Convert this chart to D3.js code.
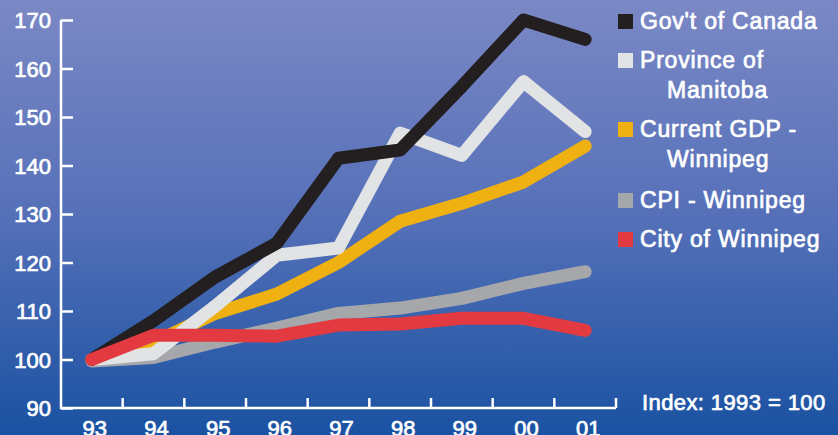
<!DOCTYPE html>
<html>
<head>
<meta charset="utf-8">
<script src="https://cdn.jsdelivr.net/npm/d3@7"></script>
<style>
  html, body { margin: 0; padding: 0; background: #1a52a2; }
  svg { display: block; }
  text { font-family: "Liberation Sans", Arial, sans-serif; fill: #fff; stroke: #fff; stroke-width: 0.7px; }
</style>
</head>
<body>
<script>
// data
const years = ['93', '94', '95', '96', '97', '98', '99', '00', '01'];
const yTicks = [90, 100, 110, 120, 130, 140, 150, 160, 170];

const govCanada = [100, 108, 117, 124, 141.5, 143.2, 156.3, 170, 166];
const provManitoba = [100, 101.2, 111, 121.5, 123, 146.7, 142.1, 157.3, 147];
const gdpWinnipeg = [100, 103.5, 109.5, 113.5, 120, 128.5, 132.2, 136.6, 144];
const cpiWinnipeg = [99.7, 100.4, 103.6, 106.5, 109.5, 110.6, 112.6, 115.7, 118.1];
const cityWinnipeg = [100, 105, 105, 104.8, 107.1, 107.3, 108.5, 108.5, 106];

const seriesNames = ['Gov\'t of Canada', 'Province of|Manitoba', 'Current GDP -|Winnipeg', 'CPI - Winnipeg', 'City of Winnipeg'];
const seriesColors = ['#231f20', '#e1e3e5', '#eeb111', '#a6a7ab', '#e23a40'];
const seriesValues = [govCanada, provManitoba, gdpWinnipeg, cpiWinnipeg, cityWinnipeg];
// drawing order, bottom to top
const drawOrder = [3, 2, 1, 0, 4];

const width = 838, height = 435;

const svg = d3.select('body').append('svg')
  .attr('width', width)
  .attr('height', height);

const defs = svg.append('defs');
const grad = defs.append('linearGradient')
  .attr('id', 'bg')
  .attr('x1', 0).attr('y1', 0).attr('x2', 0).attr('y2', 1);
grad.append('stop').attr('offset', '0%').attr('stop-color', '#7b88c5');
grad.append('stop').attr('offset', '50%').attr('stop-color', '#5570b8');
grad.append('stop').attr('offset', '100%').attr('stop-color', '#1a52a2');

svg.append('rect')
  .attr('width', width)
  .attr('height', height)
  .attr('fill', 'url(#bg)');

const x = d3.scaleBand()
  .domain(years)
  .range([61, 616]);

const y = d3.scaleLinear()
  .domain([90, 170])
  .range([408, 20]);

// axes
const yAxis = svg.append('g')
  .attr('transform', 'translate(61,0)')
  .call(d3.axisRight(y).tickValues(yTicks).tickSize(12).tickFormat(''));
yAxis.select('.domain').remove();
yAxis.selectAll('line').attr('stroke', '#fff').attr('stroke-width', 2.5);

yAxis.selectAll('.tick').append('text')
  .attr('x', -10)
  .attr('dy', '0.35em')
  .attr('text-anchor', 'end')
  .style('font-size', '22px')
  .text(d => d);

const xAxis = svg.append('g')
  .attr('transform', 'translate(0,408)');

const bounds = years.map(d => x(d)).concat([x.range()[1]]);
xAxis.selectAll('line.tick')
  .data(bounds.slice(1))
  .join('line')
  .attr('class', 'tick')
  .attr('x1', d => d).attr('x2', d => d)
  .attr('y1', 0).attr('y2', -10)
  .attr('stroke', '#fff').attr('stroke-width', 2.5);

xAxis.append('path')
  .attr('d', `M61,${y(170) - 408}V0H${x.range()[1]}`)
  .attr('fill', 'none')
  .attr('stroke', '#fff')
  .attr('stroke-width', 2.5);

xAxis.selectAll('text.lbl')
  .data(years)
  .join('text')
  .attr('class', 'lbl')
  .attr('x', d => x(d) + x.bandwidth() / 2 + 3)
  .attr('y', 28)
  .attr('text-anchor', 'middle')
  .style('font-size', '22px')
  .text(d => d);

// lines
const line = d3.line()
  .x((d, i) => x(years[i]) + x.bandwidth() / 2)
  .y(d => y(d));

svg.append('g')
  .selectAll('path')
  .data(drawOrder)
  .join('path')
  .attr('d', i => line(seriesValues[i]))
  .attr('fill', 'none')
  .attr('stroke', i => seriesColors[i])
  .attr('stroke-width', 13)
  .attr('stroke-linecap', 'round')
  .attr('stroke-linejoin', 'round');

// legend
const legendTops = [14, 53, 122, 193, 232];
const legend = svg.append('g');
seriesNames.forEach((name, i) => {
  const top = legendTops[i];
  legend.append('rect')
    .attr('x', 618).attr('y', top)
    .attr('width', 15).attr('height', 15)
    .attr('fill', seriesColors[i]);
  const parts = name.split('|');
  parts.forEach((p, j) => {
    legend.append('text')
      .attr('x', j === 0 ? 640 : 667)
      .attr('y', top + 15 + j * 30)
      .style('font-size', '23px')
      .style('letter-spacing', '0.8px')
      .text(p);
  });
});

svg.append('text')
  .attr('x', 642)
  .attr('y', 410)
  .style('font-size', '22px')
  .style('letter-spacing', '0.4px')
  .text('Index: 1993 = 100');
</script>
</body>
</html>
